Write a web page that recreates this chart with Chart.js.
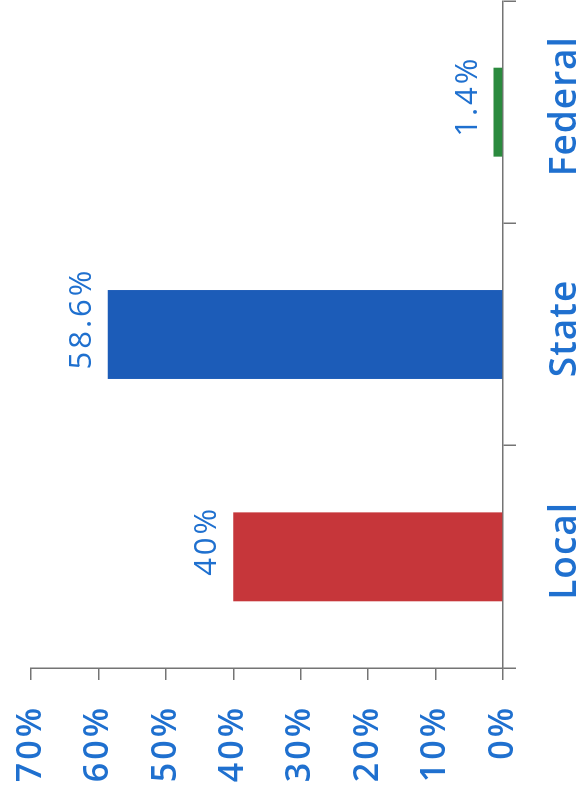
<!DOCTYPE html>
<html>
<head>
<meta charset="utf-8">
<script src="https://cdn.jsdelivr.net/npm/chart.js@4/dist/chart.umd.min.js"></script>
<style>
  html, body { margin: 0; padding: 0; background: #fff; overflow: hidden; width: 584px; height: 795px; }
  /* the chart is laid out upright and then turned a quarter turn counter-clockwise */
  #frame {
    position: absolute; left: 0; top: 0; width: 795px; height: 584px;
    transform-origin: 0 0;
    transform: translateY(795px) rotate(-90deg);
  }
</style>
</head>
<body>
<div id="frame"><canvas id="c" width="795" height="584"></canvas></div>
<script>
// Share of funding by level of government (%)
const categories = ['Local', 'State', 'Federal'];
const shares = [40, 58.6, 1.4];
const shareLabels = ['40%', '58.6%', '1.4%'];
const barColors = ['#c6363a', '#1c5cb8', '#2b8a3e'];

const TEXT_BLUE = '#1f70cf';
const AXIS_GREY = '#747474';

// writes the value above each bar
const valueLabels = {
  id: 'valueLabels',
  afterDatasetsDraw(chart) {
    const ctx = chart.ctx;
    const meta = chart.getDatasetMeta(0);
    ctx.save();
    ctx.font = '400 31px "Open Sans"';
    ctx.fillStyle = TEXT_BLUE;
    ctx.textAlign = 'center';
    ctx.textBaseline = 'alphabetic';
    ctx.letterSpacing = '3px';
    meta.data.forEach((bar, i) => {
      ctx.fillText(shareLabels[i], bar.x + 16, bar.y - 17);
    });
    ctx.restore();
  }
};

// gives a scale's tick labels their own letter spacing and a small nudge
function styleLabels(scale, spacing, dx) {
  if (scale._styled) return;
  const draw = scale.drawLabels;
  scale.drawLabels = function (area) {
    const ctx = this.ctx;
    ctx.save();
    ctx.letterSpacing = spacing;
    ctx.translate(dx, 0);
    draw.call(this, area);
    ctx.restore();
  };
  scale._styled = true;
}

new Chart(document.getElementById('c'), {
  type: 'bar',
  data: {
    labels: categories,
    datasets: [{
      data: shares,
      backgroundColor: barColors,
      borderWidth: 0,
      categoryPercentage: 1,
      barPercentage: 0.4
    }]
  },
  options: {
    responsive: false,
    animation: false,
    devicePixelRatio: 1,
    layout: { padding: { top: 31, right: 1, left: 0, bottom: 0 } },
    plugins: { legend: { display: false }, tooltip: { enabled: false } },
    scales: {
      x: {
        grid: { offset: true, drawOnChartArea: false, tickLength: 13, color: AXIS_GREY, lineWidth: 1.5 },
        border: { color: AXIS_GREY, width: 1.5 },
        ticks: {
          color: TEXT_BLUE,
          padding: 27,
          font: { family: 'Open Sans', size: 37, weight: '600' }
        },
        afterFit(scale) { scale.height = 81; styleLabels(scale, '1px', 6); }
      },
      y: {
        min: 0,
        max: 70,
        grid: { drawOnChartArea: false, tickLength: 12, color: AXIS_GREY, lineWidth: 1.5 },
        border: { color: AXIS_GREY, width: 1.5 },
        ticks: {
          stepSize: 10,
          color: TEXT_BLUE,
          padding: 25,
          font: { family: 'Open Sans', size: 34, weight: '600' },
          callback: (v) => v + '%'
        },
        afterFit(scale) {
          scale.width = 127;
          // the end labels only need half their own height of room
          scale.paddingTop = 21;
          scale.paddingBottom = 21;
          styleLabels(scale, '3px', 0);
        }
      }
    }
  },
  plugins: [valueLabels]
});
</script>
</body>
</html>
